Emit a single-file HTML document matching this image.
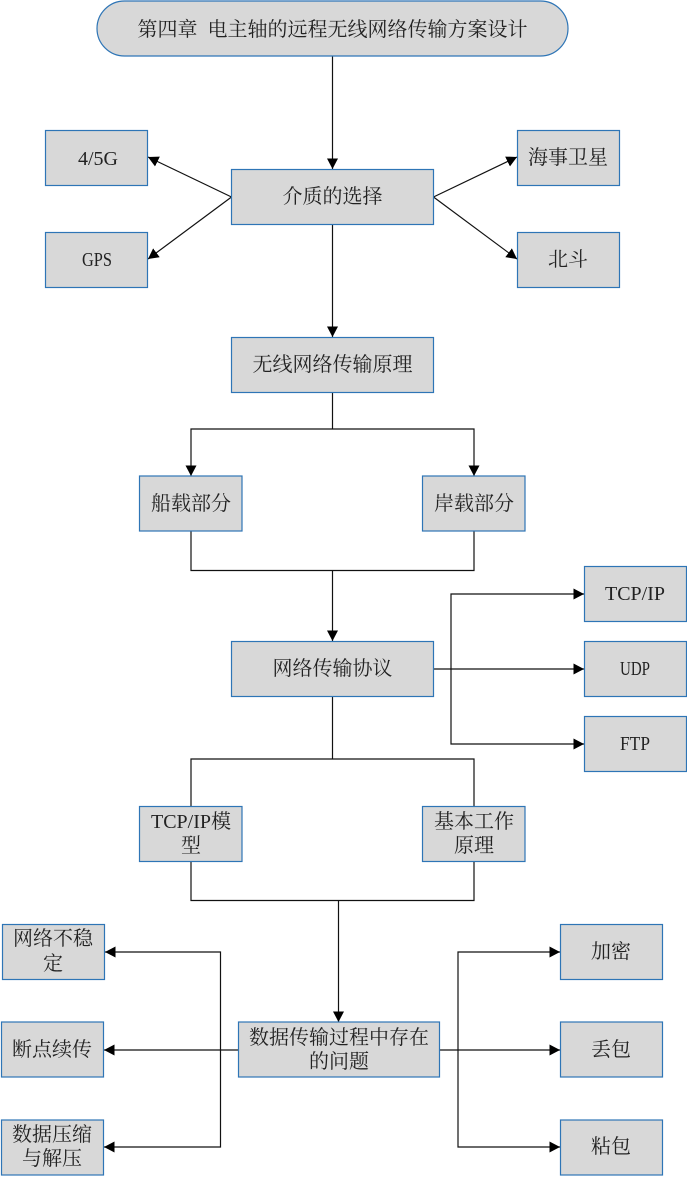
<!DOCTYPE html>
<html><head><meta charset="utf-8"><style>
html,body{margin:0;padding:0;background:#fff}
svg{display:block}
text{font-family:"Liberation Serif","Noto Serif CJK SC",serif;font-size:20px;fill:#222;text-anchor:middle}
text.s{text-anchor:start}
.b{fill:#d8d8d8;stroke:#2e75b6;stroke-width:1.2}
.c{fill:none;stroke:#111;stroke-width:1.2}
</style></head><body>
<svg width="687" height="1179" viewBox="0 0 687 1179" xmlns="http://www.w3.org/2000/svg">
<defs><marker id="a" markerUnits="userSpaceOnUse" markerWidth="12" markerHeight="12" refX="10.5" refY="5.5" orient="auto"><path d="M0 0L10.5 5.5L0 11Z" fill="#000"/></marker></defs>
<g class="c">
<path class="c" d="M332.5 56V169" marker-end="url(#a)"/>
<path class="c" d="M231.5 197L148 157" marker-end="url(#a)"/>
<path class="c" d="M231.5 197L148 259" marker-end="url(#a)"/>
<path class="c" d="M433.5 197L517 157" marker-end="url(#a)"/>
<path class="c" d="M433.5 197L517 259" marker-end="url(#a)"/>
<path class="c" d="M332.5 225V337" marker-end="url(#a)"/>
<path class="c" d="M332.5 393V429"/>
<path class="c" d="M332.5 429H191V476" marker-end="url(#a)"/>
<path class="c" d="M332.5 429H474V476" marker-end="url(#a)"/>
<path class="c" d="M191 531V570.5H474V531"/>
<path class="c" d="M332.5 570.5V641" marker-end="url(#a)"/>
<path class="c" d="M433.5 669H584" marker-end="url(#a)"/>
<path class="c" d="M451 669V594H584" marker-end="url(#a)"/>
<path class="c" d="M451 669V744H584" marker-end="url(#a)"/>
<path class="c" d="M332.5 696V759"/>
<path class="c" d="M332.5 759H191V806"/>
<path class="c" d="M332.5 759H474V806"/>
<path class="c" d="M191 861V900.5H474V861"/>
<path class="c" d="M338.5 900.5V1022" marker-end="url(#a)"/>
<path class="c" d="M440 1050H560" marker-end="url(#a)"/>
<path class="c" d="M458 1050V952H560" marker-end="url(#a)"/>
<path class="c" d="M458 1050V1147H560" marker-end="url(#a)"/>
<path class="c" d="M238 1050H104" marker-end="url(#a)"/>
<path class="c" d="M220.5 1050V952H105" marker-end="url(#a)"/>
<path class="c" d="M220.5 1050V1147H104" marker-end="url(#a)"/>
</g>
<rect class="b" x="97" y="1" width="471" height="55" rx="27.5"/>
<rect class="b" x="45.5" y="130.5" width="102" height="55"/>
<rect class="b" x="45.5" y="232.5" width="102" height="55"/>
<rect class="b" x="231.5" y="169.5" width="202" height="55"/>
<rect class="b" x="517.5" y="130.5" width="102" height="55"/>
<rect class="b" x="517.5" y="232.5" width="102" height="55"/>
<rect class="b" x="231.5" y="337.5" width="202" height="55"/>
<rect class="b" x="139.5" y="476" width="102.5" height="55"/>
<rect class="b" x="422.5" y="476" width="102.5" height="55"/>
<rect class="b" x="231.5" y="641.5" width="202" height="55"/>
<rect class="b" x="584.5" y="566.5" width="102" height="55"/>
<rect class="b" x="584.5" y="641.5" width="102" height="55"/>
<rect class="b" x="584.5" y="716.5" width="102" height="55"/>
<rect class="b" x="139.5" y="806.5" width="102.5" height="55"/>
<rect class="b" x="422.5" y="806.5" width="102.5" height="55"/>
<rect class="b" x="238.5" y="1022" width="201" height="55"/>
<rect class="b" x="2.5" y="924.5" width="102" height="55"/>
<rect class="b" x="1.5" y="1022" width="102" height="55"/>
<rect class="b" x="1.5" y="1120" width="102" height="55"/>
<rect class="b" x="560.5" y="924.5" width="102" height="55"/>
<rect class="b" x="560.5" y="1022" width="102" height="55"/>
<rect class="b" x="560.5" y="1120" width="102" height="55"/>

<text x="332.5" y="36" xml:space="preserve">第四章  电主轴的远程无线网络传输方案设计</text>
<text x="98" y="165" textLength="40" lengthAdjust="spacingAndGlyphs">4/5G</text>
<text x="97" y="266" textLength="30" lengthAdjust="spacingAndGlyphs">GPS</text>
<text x="332.5" y="203">介质的选择</text>
<text x="568" y="164">海事卫星</text>
<text x="568" y="266">北斗</text>
<text x="332.5" y="371">无线网络传输原理</text>
<text x="191" y="510">船载部分</text>
<text x="474" y="510">岸载部分</text>
<text x="332.5" y="675">网络传输协议</text>
<text x="635" y="600" textLength="60" lengthAdjust="spacingAndGlyphs">TCP/IP</text>
<text x="635" y="675" textLength="30" lengthAdjust="spacingAndGlyphs">UDP</text>
<text x="635" y="750" textLength="30" lengthAdjust="spacingAndGlyphs">FTP</text>
<text class="s" x="151" y="828" textLength="60" lengthAdjust="spacingAndGlyphs">TCP/IP</text>
<text class="s" x="211" y="828">模</text>
<text x="191" y="852">型</text>
<text x="474" y="828">基本工作</text>
<text x="474" y="852">原理</text>
<text x="339" y="1044">数据传输过程中存在</text>
<text x="339" y="1068">的问题</text>
<text x="53" y="945">网络不稳</text>
<text x="53" y="970">定</text>
<text x="52" y="1056">断点续传</text>
<text x="52" y="1141">数据压缩</text>
<text x="52" y="1165">与解压</text>
<text x="611" y="958">加密</text>
<text x="611" y="1056">丢包</text>
<text x="611" y="1153">粘包</text>
</svg>
</body></html>
